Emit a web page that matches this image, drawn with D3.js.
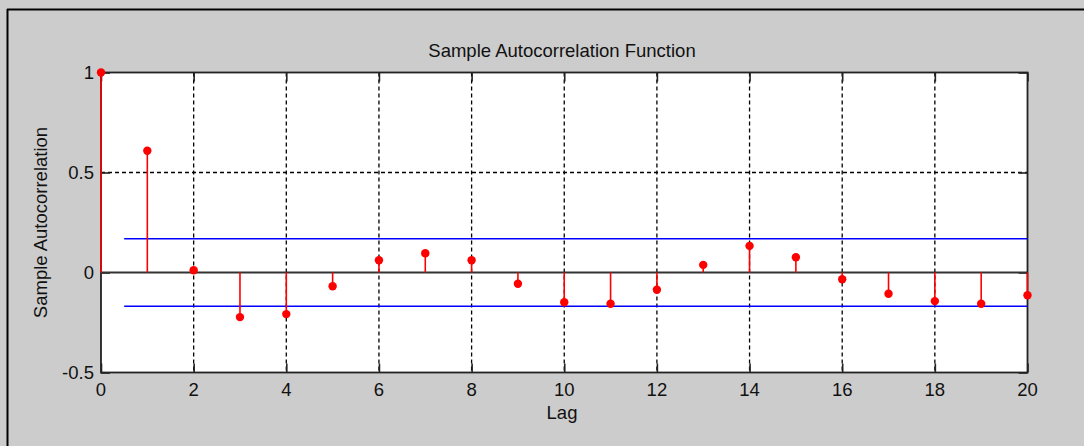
<!DOCTYPE html>
<html>
<head>
<meta charset="utf-8">
<script src="https://cdn.jsdelivr.net/npm/d3@7"></script>
<style>
  html, body { margin: 0; padding: 0; background: #cccccc; }
  svg { display: block; }
  text { font-family: "Liberation Sans", Arial, sans-serif; fill: #111111; }
</style>
</head>
<body>
<svg id="chart" width="1084" height="446"></svg>
<script>
// Sample autocorrelation by lag
const lags = d3.range(0, 21);
const acf = [1, 0.609, 0.011, -0.223, -0.208, -0.069, 0.061, 0.096, 0.061, -0.056,
             -0.149, -0.156, -0.086, 0.038, 0.133, 0.076, -0.034, -0.106, -0.143, -0.156, -0.114];
// Approximate confidence bounds
const bound = 0.169;
const xTicks = [0, 2, 4, 6, 8, 10, 12, 14, 16, 18, 20];
const yTicks = [-0.5, 0, 0.5, 1];
const yTickLabels = ["-0.5", "0", "0.5", "1"];

const svg = d3.select("#chart");
const W = 1084, H = 446;

// figure window frame
svg.append("rect").attr("x", 0).attr("y", 0).attr("width", W).attr("height", H).attr("fill", "#cccccc");
svg.append("line").attr("x1", 7.5).attr("x2", 7.5).attr("y1", 9).attr("y2", H)
  .attr("stroke", "#000").attr("stroke-width", 2);
svg.append("line").attr("x1", 7).attr("x2", W).attr("y1", 9.5).attr("y2", 9.5)
  .attr("stroke", "#000").attr("stroke-width", 2);

const x = d3.scaleLinear().domain([0, 20]).range([101, 1027.5]);
const y = d3.scaleLinear().domain([-0.5, 1]).range([372.5, 72.5]);

const [x0, x1] = x.range();
const [yb, yt] = y.range();

// plot area
svg.append("rect").attr("x", x0).attr("y", yt).attr("width", x1 - x0).attr("height", yb - yt)
  .attr("fill", "#ffffff");

// dashed grid
const grid = svg.append("g").attr("stroke", "#000").attr("stroke-width", 1.3)
  .attr("stroke-dasharray", "4,3");
grid.selectAll("line.gx").data(xTicks.filter(d => d > 0 && d < 20)).join("line")
  .attr("class", "gx")
  .attr("x1", d => x(d)).attr("x2", d => x(d)).attr("y1", yt).attr("y2", yb);
grid.selectAll("line.gy").data(yTicks.filter(d => d > 0 && d < 1)).join("line")
  .attr("class", "gy")
  .attr("x1", x0).attr("x2", x1).attr("y1", d => y(d)).attr("y2", d => y(d));

// axes box with inward ticks
const axisColor = "#222222";
const tickLen = 9;
const axes = svg.append("g");
axes.append("g").attr("transform", `translate(0,${yb})`)
  .call(d3.axisTop(x).tickValues(xTicks).tickSize(tickLen).tickFormat(""))
  .call(g => g.select(".domain").remove());
axes.append("g").attr("transform", `translate(0,${yt})`)
  .call(d3.axisBottom(x).tickValues(xTicks).tickSize(tickLen).tickFormat(""))
  .call(g => g.select(".domain").remove());
axes.append("g").attr("transform", `translate(${x0},0)`)
  .call(d3.axisRight(y).tickValues(yTicks).tickSize(tickLen).tickFormat(""))
  .call(g => g.select(".domain").remove());
axes.append("g").attr("transform", `translate(${x1},0)`)
  .call(d3.axisLeft(y).tickValues(yTicks).tickSize(tickLen).tickFormat(""))
  .call(g => g.select(".domain").remove());
axes.selectAll(".tick line").attr("stroke", axisColor).attr("stroke-width", 1.6);
axes.append("rect").attr("x", x0).attr("y", yt).attr("width", x1 - x0).attr("height", yb - yt)
  .attr("fill", "none").attr("stroke", axisColor).attr("stroke-width", 1.8);

// tick labels
svg.append("g").selectAll("text").data(xTicks).join("text")
  .attr("x", d => x(d)).attr("y", yb + 23)
  .attr("text-anchor", "middle").attr("font-size", 18.5)
  .text(d => d);
svg.append("g").selectAll("text").data(yTicks).join("text")
  .attr("x", x0 - 7).attr("y", d => y(d)).attr("dy", "0.35em")
  .attr("text-anchor", "end").attr("font-size", 18.5)
  .text((d, i) => yTickLabels[i]);

// confidence bounds
svg.append("g").selectAll("line").data([bound, -bound]).join("line")
  .attr("x1", x(0.5)).attr("x2", x(20))
  .attr("y1", d => y(d)).attr("y2", d => y(d))
  .attr("stroke", "#0000ff").attr("stroke-width", 1.6);

// stem baseline
svg.append("line").attr("x1", x0).attr("x2", x1).attr("y1", y(0)).attr("y2", y(0))
  .attr("stroke", "#333333").attr("stroke-width", 1.8);

// stems and markers
svg.append("g").selectAll("line").data(lags).join("line")
  .attr("x1", d => x(d)).attr("x2", d => x(d))
  .attr("y1", y(0)).attr("y2", d => y(acf[d]))
  .attr("stroke", "#ff0000").attr("stroke-width", 1.6);
svg.append("g").selectAll("circle").data(lags).join("circle")
  .attr("cx", d => x(d)).attr("cy", d => y(acf[d])).attr("r", 4.2)
  .attr("fill", "#ff0000");

// titles
svg.append("text").attr("x", 562).attr("y", 57).attr("text-anchor", "middle")
  .attr("font-size", 18.5).text("Sample Autocorrelation Function");
svg.append("text").attr("x", 562).attr("y", 419).attr("text-anchor", "middle")
  .attr("font-size", 18.5).text("Lag");
svg.append("text").attr("transform", `translate(47,${(yt + yb) / 2}) rotate(-90)`)
  .attr("text-anchor", "middle").attr("font-size", 18.5).text("Sample Autocorrelation");
</script>
</body>
</html>
